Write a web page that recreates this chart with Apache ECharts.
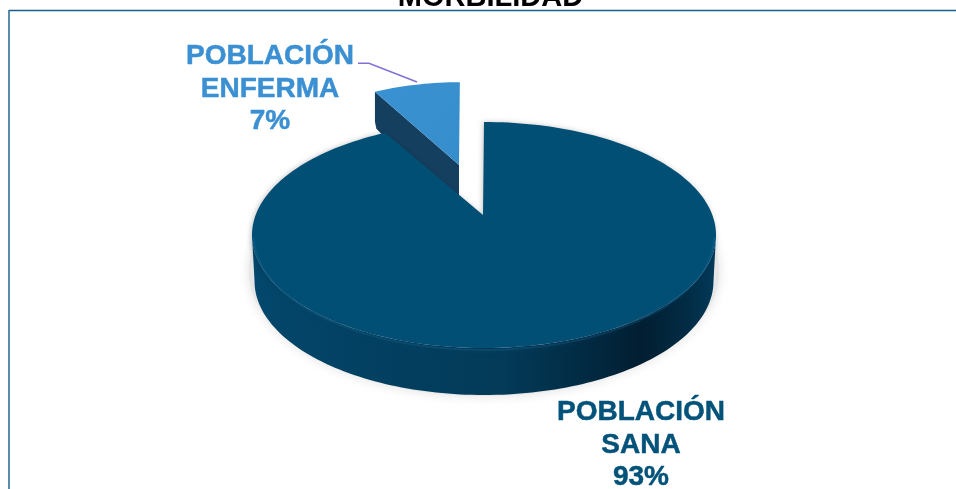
<!DOCTYPE html>
<html>
<head>
<meta charset="utf-8">
<style>html,body{margin:0;padding:0;background:#fff;overflow:hidden}#c{width:956px;height:489px}</style>
<script src="https://cdn.jsdelivr.net/npm/echarts@6/dist/echarts.min.js"></script>
</head>
<body>
<div id="c"></div>
<script>
var chartTitle = 'MORBILIDAD';
var categories = ['POBLACIÓN\nENFERMA', 'POBLACIÓN\nSANA'];
var values = [7, 93];
var percentLabels = ['7%', '93%'];
var sliceColors = ['#368dcb', '#024f75'];
var wallColors = ['#153f5f', '#03476c'];
var labelColors = ['#3a90d2', '#02527a'];

var CX = 484, CY = 235, RX = 232, RY = 113, DEPTH = 46;
var APEX = [483, 215];
var total = values.reduce(function (a, b) { return a + b; }, 0);
var rad = Math.PI / 180;

function rim(a, cy, rx, ry) {
  return [CX + (rx || RX) * Math.sin(a), (cy || CY) - (ry || RY) * Math.cos(a)];
}
function arc(a0, a1, cy, rx, ry) {
  var pts = [], n = Math.max(8, Math.ceil(Math.abs(a1 - a0) / (rad * 1.5)));
  for (var i = 0; i <= n; i++) pts.push(rim(a0 + (a1 - a0) * i / n, cy, rx, ry));
  return pts;
}
function drawEnferma(a0, a1, idx) {
  var sx = 0.86, sy = 0.89, dx = -24, dy = -50, depth = 38;
  function map(p) { return [APEX[0] + dx + sx * (p[0] - APEX[0]), APEX[1] + dy + sy * (p[1] - APEX[1])]; }
  var top = arc(a0, a1).map(map);
  var apex = [APEX[0] + dx, APEX[1] + dy];
  var corner = top[0];
  return [
    { type: 'polygon', shape: { points: [[apex[0], apex[1] - 60], [apex[0] + 2, apex[1] - 60], [apex[0] + 2, apex[1]], apex] },
      style: { fill: 'rgba(0,0,0,0)', shadowBlur: 9, shadowOffsetX: 4, shadowColor: 'rgba(0,0,0,0.28)' } },
    { type: 'polygon', shape: { points: [corner, apex, [apex[0], apex[1] + depth + 10], [corner[0] + 1.5, corner[1] + depth - 1], [corner[0], corner[1] + depth - 8]] },
      style: { fill: wallColors[idx] } },
    { type: 'polygon', shape: { points: top.concat([apex]) }, style: { fill: { type: 'linear', x: 0, y: 0, x2: 1, y2: 1,
      colorStops: [{ offset: 0, color: '#3a92d2' }, { offset: 1, color: sliceColors[idx] }] } } }
  ];
}
function drawSana(a0, a1, idx) {
  var front = arc(Math.PI / 2, Math.PI * 1.5);
  var lower = arc(Math.PI * 1.5, Math.PI / 2, CY + DEPTH, RX - 2.5, RY + 1);
  var halo = arc(Math.PI * 75 / 180, Math.PI * 285 / 180, CY + 36, RX + 3, RY + 12);
  return [
    { type: 'polygon', shape: { points: halo }, style: { fill: '#e6e6e6', shadowBlur: 12, shadowColor: '#e0e0e0' } },
    { type: 'polygon', shape: { points: front.concat(lower) }, style: { fill: { type: 'linear', x: 0, y: 0, x2: 1, y2: 0,
      colorStops: [
        { offset: 0, color: wallColors[idx] }, { offset: 0.3, color: '#033f60' }, { offset: 0.55, color: '#033a58' },
        { offset: 0.72, color: '#022a42' }, { offset: 0.84, color: '#021e31' }, { offset: 0.94, color: '#022c45' },
        { offset: 1, color: '#033a5a' }] } } },
    { type: 'polygon', shape: { points: arc(a0, a1).concat([APEX]) },
      style: { fill: sliceColors[idx], shadowBlur: 5, shadowOffsetX: -1, shadowColor: 'rgba(0,0,0,0.22)' } },
    { type: 'polyline', shape: { points: arc(Math.PI * 0.5, Math.PI * 1.5, CY + 2, RX - 2, RY) },
      style: { fill: null, stroke: 'rgba(24,104,150,0.32)', lineWidth: 2, shadowBlur: 6, shadowColor: 'rgba(24,104,150,0.7)' } }
  ];
}

var chart = echarts.init(document.getElementById('c'), null, { renderer: 'canvas' });
var labelFont = { fontFamily: 'Liberation Sans, Arial, sans-serif', fontWeight: 'bold', fontSize: 28, lineHeight: 32.5, lineWidth: 0.5 };
var labelPos = [[270, 89], [641, 445]];

chart.setOption({
  animation: false,
  title: { text: chartTitle, left: 485.5, top: -22, textAlign: 'center',
    textStyle: { fontFamily: 'Liberation Sans, Arial, sans-serif', fontWeight: 'bold', fontSize: 29, color: '#000' } },
  graphic: [
    { type: 'line', silent: true, shape: { x1: 9, y1: 10.5, x2: 956, y2: 10.5 }, style: { stroke: '#15608f', lineWidth: 1.4 } },
    { type: 'line', silent: true, shape: { x1: 9, y1: 10, x2: 9, y2: 489 }, style: { stroke: '#2f6f9a', lineWidth: 1.6 } }
  ],
  series: [{
    type: 'custom',
    coordinateSystem: 'none',
    data: values.map(function (v, i) { return { value: [v], name: categories[i] }; }),
    renderItem: function (params, api) {
      var i = params.dataIndex;
      var start = -values[0] / total * 360;
      for (var k = 0; k < i; k++) start += values[k] / total * 360;
      var a0 = start * rad, a1 = (start + api.value(0) / total * 360) * rad;
      var kids = i === 0 ? drawEnferma(a0, a1, i) : drawSana(a0, a1, i);
      kids.push({ type: 'text', z2: 50, style: Object.assign({
        text: categories[i] + '\n' + percentLabels[i], x: labelPos[i][0], y: labelPos[i][1],
        align: 'center', verticalAlign: 'middle', fill: labelColors[i], stroke: labelColors[i] }, labelFont) });
      if (i === 0) kids.push({ type: 'polyline', shape: { points: [[358, 63.3], [369, 63.3], [417, 82]] },
        style: { fill: null, stroke: '#8470d4', lineWidth: 1.6 } });
      return { type: 'group', children: kids };
    }
  }]
});
</script>
</body>
</html>
